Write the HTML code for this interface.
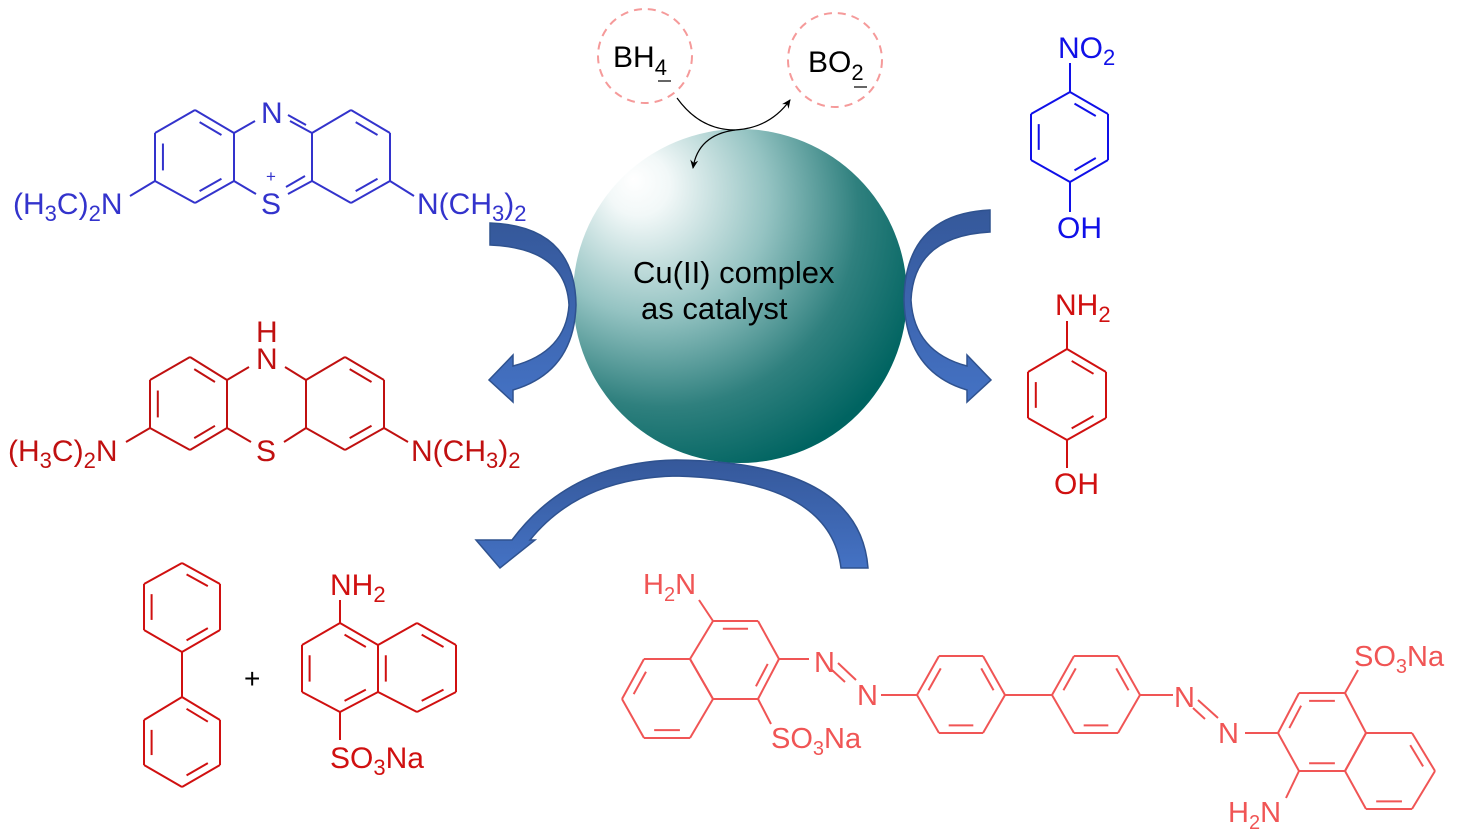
<!DOCTYPE html>
<html><head><meta charset="utf-8"><style>
html,body{margin:0;padding:0;background:#fff;}
svg{display:block;font-family:"Liberation Sans",Arial,sans-serif;}
</style></head><body>
<svg id="s" width="1460" height="838" viewBox="0 0 1460 838" xmlns="http://www.w3.org/2000/svg">
<defs>
<radialGradient id="sph" cx="0.3" cy="0.28" r="0.78" fx="0.18" fy="0.15">
<stop offset="0" stop-color="#ffffff"/>
<stop offset="0.12" stop-color="#f2f8f8"/>
<stop offset="0.45" stop-color="#94c3c2"/>
<stop offset="0.75" stop-color="#2f807e"/>
<stop offset="1" stop-color="#006461"/>
</radialGradient>
<linearGradient id="ar" x1="0" y1="0" x2="0" y2="1">
<stop offset="0" stop-color="#35589a"/><stop offset="1" stop-color="#4472c4"/>
</linearGradient>
<marker id="mh" markerWidth="10" markerHeight="10" refX="8" refY="5" orient="auto" markerUnits="userSpaceOnUse">
<path d="M0,1 L9,5 L0,9 L3,5Z" fill="#000"/></marker>
</defs>

<circle cx="740" cy="296" r="167" fill="url(#sph)"/>
<text x="633" y="283" font-size="31" fill="#000">Cu(II) complex</text>
<text x="641" y="319" font-size="31" fill="#000">as catalyst</text>

<circle cx="645" cy="56" r="47" fill="none" stroke="#f59a9a" stroke-width="2" stroke-dasharray="8,6"/>
<circle cx="835" cy="60" r="47" fill="none" stroke="#f59a9a" stroke-width="2" stroke-dasharray="8,6"/>
<text x="613" y="67" font-size="30">BH<tspan font-size="22" dy="8">4</tspan></text>
<line x1="658" y1="81" x2="671" y2="81" stroke="#000" stroke-width="1.2"/>
<text x="808" y="72" font-size="30">BO<tspan font-size="22" dy="8">2</tspan></text>
<line x1="854" y1="87" x2="867" y2="87" stroke="#000" stroke-width="1.2"/>
<path d="M677,98 Q700,130 735,130 Q770,128 790,100" fill="none" stroke="#000" stroke-width="1.2" marker-end="url(#mh)"/>
<path d="M735,130 Q698,135 693,168" fill="none" stroke="#000" stroke-width="1.2" marker-end="url(#mh)"/>

<path d="M490,223 Q575,226 576,305 Q574,372 513,390 L513,402 L489,380 L513,355 L513,366 Q566,352 569,305 Q566,248 490,245 Z" fill="url(#ar)" stroke="#2f528f" stroke-width="1.5"/>
<path d="M990,210 Q905,214 904,300 Q906,372 967,390 L967,402 L991,380 L967,355 L967,366 Q914,352 911,300 Q914,236 990,232 Z" fill="url(#ar)" stroke="#2f528f" stroke-width="1.5"/>
<path d="M868,568 L841,568 Q830,480 676,476 Q580,478 530,540 L535,540 L500,568 L476,540 L512,540 Q570,462 676,460 Q860,462 868,568 Z" fill="url(#ar)" stroke="#2f528f" stroke-width="1.5"/>

<g id="bonds"></g>

<g fill="#3333cc" font-size="30">
<text x="261" y="123">N</text>
<text x="261" y="214">S</text>
<text x="266" y="182" font-size="17">+</text>
<text x="13" y="214">(H<tspan font-size="22" dy="7">3</tspan><tspan dy="-7">C)</tspan><tspan font-size="22" dy="7">2</tspan><tspan dy="-7">N</tspan></text>
<text x="417" y="214">N(CH<tspan font-size="22" dy="7">3</tspan><tspan dy="-7">)</tspan><tspan font-size="22" dy="7">2</tspan></text>
</g>
<g fill="#c01010" font-size="30">
<text x="256" y="342">H</text>
<text x="256" y="369">N</text>
<text x="256" y="461">S</text>
<text x="8" y="461">(H<tspan font-size="22" dy="7">3</tspan><tspan dy="-7">C)</tspan><tspan font-size="22" dy="7">2</tspan><tspan dy="-7">N</tspan></text>
<text x="411" y="461">N(CH<tspan font-size="22" dy="7">3</tspan><tspan dy="-7">)</tspan><tspan font-size="22" dy="7">2</tspan></text>
</g>
<g fill="#1010e8" font-size="30">
<text x="1058" y="58">NO<tspan font-size="22" dy="7">2</tspan></text>
<text x="1057" y="238">OH</text>
</g>
<g fill="#d01010" font-size="30">
<text x="1055" y="315">NH<tspan font-size="22" dy="7">2</tspan></text>
<text x="1054" y="494">OH</text>
<text x="330" y="595">NH<tspan font-size="22" dy="7">2</tspan></text>
<text x="330" y="768">SO<tspan font-size="22" dy="7">3</tspan><tspan dy="-7">Na</tspan></text>
</g>
<text x="244" y="688" font-size="28" fill="#000">+</text>
<g fill="#f05555" font-size="29">
<text x="643" y="594">H<tspan font-size="20" dy="7">2</tspan><tspan dy="-7">N</tspan></text>
<text x="814" y="672">N</text>
<text x="857" y="705">N</text>
<text x="771" y="748">SO<tspan font-size="20" dy="7">3</tspan><tspan dy="-7">Na</tspan></text>
<text x="1174" y="707">N</text>
<text x="1218" y="743">N</text>
<text x="1354" y="666">SO<tspan font-size="20" dy="7">3</tspan><tspan dy="-7">Na</tspan></text>
<text x="1228" y="822">H<tspan font-size="20" dy="7">2</tspan><tspan dy="-7">N</tspan></text>
</g>
</svg>
<script>
var g=document.getElementById('bonds'),NS='http://www.w3.org/2000/svg';
function L(a,b,c,w){var l=document.createElementNS(NS,'line');l.setAttribute('x1',a[0]);l.setAttribute('y1',a[1]);l.setAttribute('x2',b[0]);l.setAttribute('y2',b[1]);l.setAttribute('stroke',c);l.setAttribute('stroke-width',w||2);g.appendChild(l);}
function ring(p,d,c){var cx=0,cy=0;p.forEach(function(q){cx+=q[0];cy+=q[1];});cx/=6;cy/=6;
for(var i=0;i<6;i++){var a=p[i],b=p[(i+1)%6];L(a,b,c);
if(d.indexOf(i)>=0){var f=0.2,s=0.15;
var a2=[a[0]+(cx-a[0])*f,a[1]+(cy-a[1])*f],b2=[b[0]+(cx-b[0])*f,b[1]+(cy-b[1])*f];
var A=[a2[0]+(b2[0]-a2[0])*s,a2[1]+(b2[1]-a2[1])*s],B=[b2[0]+(a2[0]-b2[0])*s,b2[1]+(a2[1]-b2[1])*s];L(A,B,c);}}}
var bl='#3333cc',rd='#c01010',r2='#d01010',cr='#f05555',nb='#1010e8';
ring([[195,110],[234,133],[234,181],[195,203],[155,181],[155,133]],[0,2,4],bl);
ring([[351,110],[390,133],[390,181],[351,203],[312,181],[312,133]],[0,2],bl);
L([234,133],[255,121],bl);L([290,121],[312,133],bl);L([288,115],[306,125],bl);
L([234,181],[256,194],bl);L([288,194],[312,181],bl);L([286,187],[305,176],bl);
L([155,181],[130,196],bl);L([390,181],[414,196],bl);
ring([[190,357],[227,380],[227,428],[190,450],[150,428],[150,380]],[0,2,4],rd);
ring([[345,357],[384,380],[384,428],[345,450],[306,428],[306,380]],[0,2],rd);
L([227,380],[249,367],rd);L([285,367],[306,380],rd);L([227,428],[251,442],rd);L([284,442],[306,428],rd);
L([150,428],[126,442],rd);L([384,428],[408,442],rd);
ring([[1070,92],[1108,114],[1108,160],[1070,182],[1031,160],[1031,114]],[0,2,4],nb);
L([1070,63],[1070,92],nb);L([1070,182],[1070,212],nb);
ring([[1067,349],[1106,372],[1106,418],[1067,440],[1028,418],[1028,372]],[0,2,4],r2);
L([1067,321],[1067,349],r2);L([1067,440],[1067,468],r2);
ring([[182,563],[220,584],[220,630],[182,652],[144,630],[144,584]],[0,2,4],r2);
ring([[182,697],[220,720],[220,765],[182,787],[144,765],[144,720]],[0,2,4],r2);
L([182,652],[182,697],r2);
ring([[340,623],[378,645],[378,692],[340,712],[302,692],[302,645]],[0,2,4],r2);
ring([[417,623],[456,645],[456,692],[417,712],[378,692],[378,645]],[0,2,4],r2);
L([340,600],[340,623],r2);L([340,712],[340,740],r2);
ring([[713,621],[758,621],[779,659],[758,699],[713,699],[690,659]],[0,2],cr);
ring([[690,659],[644,659],[622,699],[644,738],[690,738],[713,699]],[1,3],cr);
L([713,621],[699,600],cr);L([779,659],[809,659],cr);L([838,663],[856,680],cr);L([832,670],[845,682],cr);
L([881,695],[917,695],cr);L([758,699],[771,724],cr);
ring([[917,695],[939,656],[983,656],[1005,695],[983,733],[939,733]],[0,2,4],cr);
ring([[1052,695],[1074,656],[1118,656],[1140,695],[1118,733],[1074,733]],[0,2,4],cr);
L([1005,695],[1052,695],cr);L([1140,695],[1173,695],cr);
L([1198,700],[1218,718],cr);L([1193,708],[1205,719],cr);L([1245,733],[1278,733],cr);
ring([[1278,733],[1299,693],[1345,693],[1366,733],[1345,771],[1299,771]],[0,1,4],cr);
ring([[1366,733],[1412,733],[1435,771],[1412,809],[1366,809],[1345,771]],[1,3],cr);
L([1345,693],[1358,670],cr);L([1299,771],[1286,798],cr);
</script>
</body></html>
